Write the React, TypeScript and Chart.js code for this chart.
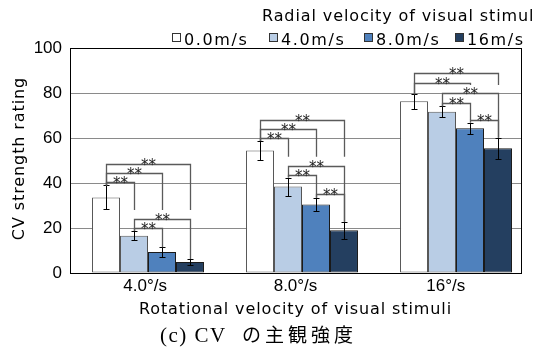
import React, { useEffect, useRef } from "react";
import { Chart, registerables } from "chart.js";

Chart.register(...registerables);

const categories = ["4.0°/s", "8.0°/s", "16°/s"];
const seriesNames = ["0.0m/s", "4.0m/s", "8.0m/s", "16m/s"];
const seriesColors = ["#ffffff", "#b9cde5", "#4f81bd", "#243f60"];
const seriesBorders = ["#555555", "#555555", "#1a1a1a", "#1a1a1a"];

const mean00 = [33.6, 54.4, 76.3];
const mean40 = [16.6, 38.4, 71.7];
const mean80 = [9.3, 30.5, 64.3];
const mean16 = [4.9, 19.0, 55.4];

const err00 = [5.3, 4.3, 3.2];
const err40 = [2.1, 4.0, 2.4];
const err80 = [2.2, 3.0, 2.5];
const err16 = [1.3, 3.8, 4.7];

const yTicks = [0, 20, 40, 60, 80, 100];

// significance brackets: [category, fromSeries, toSeries, bracketLevel, rightLegEnd]
const brackets: [number, number, number, number, number][] = [
  [0, 0, 3, 48.3, 28],
  [0, 0, 2, 44.3, 28],
  [0, 0, 1, 40.3, 28],
  [0, 1, 3, 23.9, 6.2],
  [0, 1, 2, 19.8, 11.5],
  [1, 0, 3, 68, 51.7],
  [1, 0, 2, 64, 51.7],
  [1, 0, 1, 60.1, 51.7],
  [1, 1, 3, 47.7, 22.8],
  [1, 1, 2, 43.6, 33.5],
  [1, 2, 3, 35, 22.8],
  [2, 0, 3, 88.7, 83.6],
  [2, 0, 2, 84.6, 83.6],
  [2, 1, 3, 79.9, 60.1],
  [2, 1, 2, 75.4, 68],
  [2, 2, 3, 68, 60.1],
];

const legendTitle = "Radial velocity of visual stimuli";
const yTitle = "CV strength rating";
const xTitle = "Rotational velocity of visual stimuli";
const caption = "(c) CV の主観強度";

const means = [mean00, mean40, mean80, mean16];
const errs = [err00, err40, err80, err16];

const SANS = '"Liberation Sans", Arial, sans-serif';
const WIDE = '"DejaVu Sans", sans-serif';

const overlay = {
  id: "overlay",
  afterDatasetsDraw(chart: any) {
    const ctx = chart.ctx as CanvasRenderingContext2D;
    const y = chart.scales.y;
    ctx.save();
    // error bars
    ctx.strokeStyle = "#000";
    ctx.lineWidth = 1;
    means.forEach((vals, s) => {
      const meta = chart.getDatasetMeta(s);
      vals.forEach((v, g) => {
        const x = Math.round(meta.data[g].x) + 0.5;
        const yt = Math.round(y.getPixelForValue(v + errs[s][g])) + 0.5;
        const yb = Math.round(y.getPixelForValue(v - errs[s][g])) + 0.5;
        ctx.beginPath();
        ctx.moveTo(x, yt);
        ctx.lineTo(x, yb);
        ctx.moveTo(x - 3, yt);
        ctx.lineTo(x + 3, yt);
        ctx.moveTo(x - 3, yb);
        ctx.lineTo(x + 3, yb);
        ctx.stroke();
      });
    });
    // brackets
    ctx.strokeStyle = "#5a5a5a";
    ctx.lineWidth = 1.3;
    ctx.fillStyle = "#222";
    ctx.font = '15px "DejaVu Sans", sans-serif';
    ctx.textAlign = "center";
    ctx.textBaseline = "alphabetic";
    brackets.forEach(([g, i, j, level, rEnd]) => {
      const xi = Math.round(chart.getDatasetMeta(i).data[g].x) + 0.5;
      const xj = Math.round(chart.getDatasetMeta(j).data[g].x) + 0.5;
      const yl = Math.round(y.getPixelForValue(level)) + 0.5;
      const ylb = y.getPixelForValue(means[i][g] + errs[i][g]);
      const yr = y.getPixelForValue(rEnd);
      ctx.beginPath();
      ctx.moveTo(xi, ylb);
      ctx.lineTo(xi, yl);
      ctx.lineTo(xj, yl);
      ctx.lineTo(xj, yr);
      ctx.stroke();
      ctx.fillText("**", (xi + xj) / 2, yl + 5);
    });
    ctx.restore();
  },
  afterDraw(chart: any) {
    const ctx = chart.ctx as CanvasRenderingContext2D;
    const a = chart.chartArea;
    ctx.save();
    // right frame border
    ctx.strokeStyle = "#000";
    ctx.lineWidth = 1;
    ctx.beginPath();
    ctx.moveTo(Math.round(a.right) + 0.5, a.top);
    ctx.lineTo(Math.round(a.right) + 0.5, a.bottom);
    ctx.stroke();

    ctx.fillStyle = "#000";
    // legend title
    (ctx as any).letterSpacing = "0.9px";
    ctx.font = "16px " + WIDE;
    ctx.textAlign = "left";
    ctx.textBaseline = "alphabetic";
    ctx.fillText(legendTitle, 262, 21);
    // legend items
    const boxX = [172, 269, 364, 455];
    seriesNames.forEach((n, s) => {
      ctx.fillStyle = seriesColors[s];
      ctx.fillRect(boxX[s], 33, 8, 8);
      ctx.strokeStyle = "#333";
      ctx.lineWidth = 1;
      ctx.strokeRect(boxX[s] + 0.5, 33.5, 8, 8);
      ctx.fillStyle = "#000";
      (ctx as any).letterSpacing = "1.6px";
      ctx.fillText(n, boxX[s] + 12, 45);
    });
    // x title
    (ctx as any).letterSpacing = "0.9px";
    ctx.textAlign = "center";
    ctx.fillText(xTitle, (a.left + a.right) / 2, 314);
    // y title
    ctx.save();
    (ctx as any).letterSpacing = "0.9px";
    ctx.translate(24, (a.top + a.bottom) / 2 - 2);
    ctx.rotate(-Math.PI / 2);
    ctx.font = "16px " + WIDE;
    ctx.fillText(yTitle, 0, 0);
    ctx.restore();
    // caption: latin part tight, japanese part spaced
    const cut = caption.indexOf("の");
    const latin = caption.slice(0, cut);
    const jp = caption.slice(cut);
    ctx.textAlign = "left";
    ctx.font = '21px "Liberation Serif", serif';
    (ctx as any).letterSpacing = "1.5px";
    ctx.fillText(latin, 160, 342);
    ctx.font = '19px "Noto Sans CJK JP", serif';
    (ctx as any).letterSpacing = "4px";
    ctx.fillText(jp, 242, 342);
    ctx.restore();
  },
};

export default function App() {
  const ref = useRef<HTMLCanvasElement | null>(null);
  useEffect(() => {
    if (!ref.current) return;
    const chart = new Chart(ref.current, {
      type: "bar",
      data: {
        labels: categories,
        datasets: seriesNames.map((n, s) => ({
          label: n,
          data: means[s].map((v, g) => ({ x: g, y: v })),
          backgroundColor: seriesColors[s],
          borderColor: seriesBorders[s],
          borderWidth: 1,
          borderSkipped: false,
          categoryPercentage: 0.727,
          barPercentage: 1,
          xAxisID: "x",
        })),
      },
      options: {
        responsive: false,
        animation: false,
        devicePixelRatio: 1,
        layout: { padding: { top: 48, right: 13, left: 0, bottom: 0 } },
        plugins: { legend: { display: false }, tooltip: { enabled: false } },
        scales: {
          x: {
            type: "linear",
            display: false,
            offset: false,
            min: -0.5065,
            max: 2.422,
            afterBuildTicks: (s: any) => {
              s.ticks = categories.map((_, g) => ({ value: g }));
            },
          },
          xl: {
            type: "category",
            position: "bottom",
            offset: true,
            grid: { display: false, drawTicks: false },
            border: { display: true, color: "#000", width: 1 },
            ticks: {
              color: "#000",
              font: { family: SANS, size: 17 },
              padding: 3,
              maxRotation: 0,
            },
            afterFit: (s: any) => {
              s.height = 74;
            },
          },
          y: {
            min: 0,
            max: 100,
            afterBuildTicks: (s: any) => {
              s.ticks = yTicks.map((v) => ({ value: v }));
            },
            grid: {
              drawTicks: false,
              color: (c: any) =>
                c.tick && (c.tick.value === 0 || c.tick.value === 100) ? "#000" : "#8a8a8a",
              lineWidth: 1,
            },
            border: { display: true, color: "#000", width: 1 },
            ticks: {
              color: "#000",
              font: { family: SANS, size: 17 },
              padding: 8,
            },
            afterFit: (s: any) => {
              s.width = 70;
            },
          },
        },
      },
      plugins: [overlay],
    } as any);
    return () => chart.destroy();
  }, []);
  return (
    <div style={{ position: "absolute", left: 0, top: 0, width: 534, height: 347, background: "#fff" }}>
      <canvas ref={ref} width={534} height={347} />
    </div>
  );
}
